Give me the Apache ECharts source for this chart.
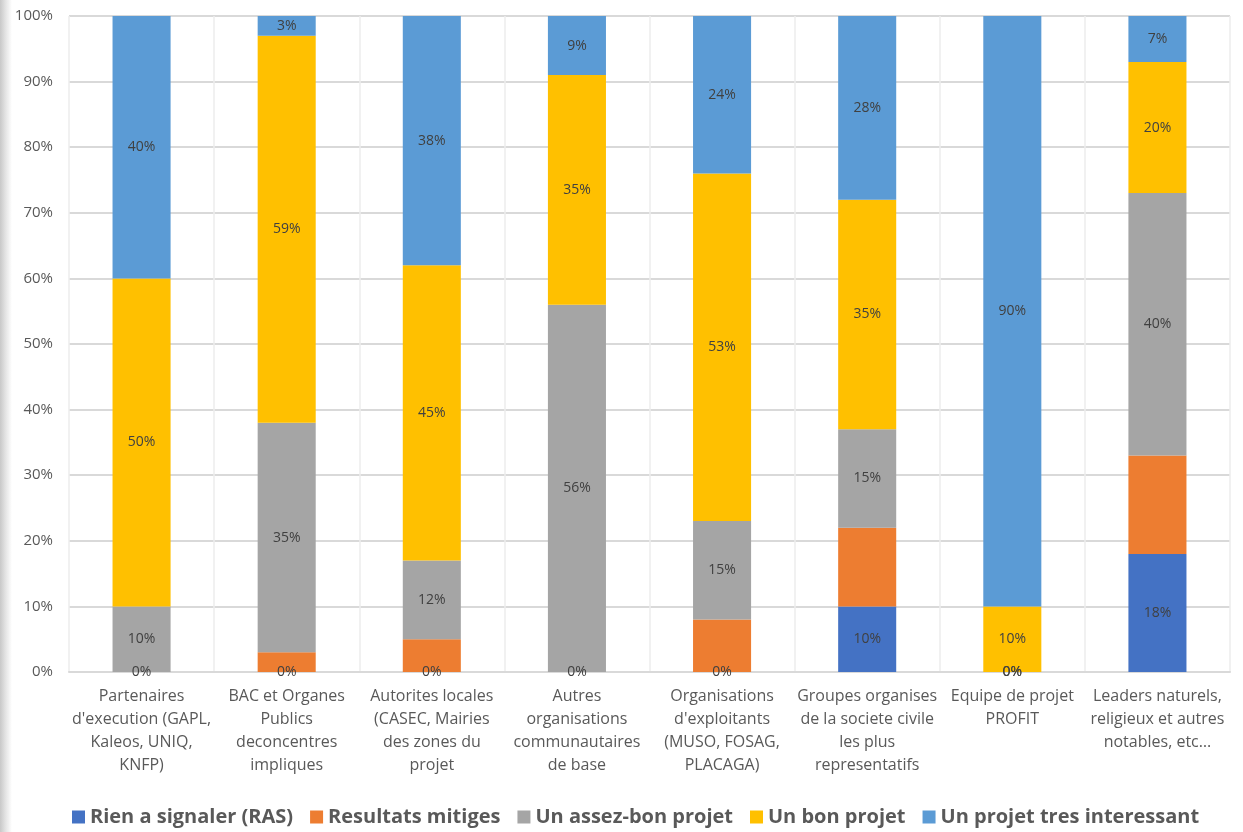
<!DOCTYPE html>
<html>
<head>
<meta charset="utf-8">
<script src="https://cdn.jsdelivr.net/npm/echarts@6/dist/echarts.min.js"></script>
<style>
  html, body { margin: 0; padding: 0; background: #fff; }
  #chart { width: 1243px; height: 832px; }
  #edge { position: absolute; left: 0; top: 0; width: 12px; height: 832px;
          background: linear-gradient(to right, #c8c8c8, #e6e6e6 50%, rgba(255,255,255,0)); }
</style>
</head>
<body>
<div id="chart"></div>
<div id="edge"></div>
<script>
// Stakeholder groups (x axis)
const categories = [
  "Partenaires\nd'execution (GAPL,\nKaleos, UNIQ,\nKNFP)",
  "BAC et Organes\nPublics\ndeconcentres\nimpliques",
  "Autorites locales\n(CASEC, Mairies\ndes zones du\nprojet",
  "Autres\norganisations\ncommunautaires\nde base",
  "Organisations\nd'exploitants\n(MUSO, FOSAG,\nPLACAGA)",
  "Groupes organises\nde la societe civile\nles plus\nrepresentatifs",
  "Equipe de projet\nPROFIT",
  "Leaders naturels,\nreligieux et autres\nnotables, etc\u2026"
];

// Share of answers per group, in percent
const ras          = [0, 0, 0, 0, 0, 10, 0, 18];
const mitiges      = [0, 3, 5, 0, 8, 12, 0, 15];
const assezBon     = [10, 35, 12, 56, 15, 15, 0, 40];
const bon          = [50, 59, 45, 35, 53, 35, 10, 20];
const interessant  = [40, 3, 38, 9, 24, 28, 90, 7];

const seriesNames = [
  "Rien a signaler (RAS)",
  "Resultats mitiges",
  "Un assez-bon projet",
  "Un bon projet",
  "Un projet tres interessant"
];
const seriesColors = ["#4472C4", "#ED7D31", "#A5A5A5", "#FFC000", "#5B9BD5"];
const seriesData = [ras, mitiges, assezBon, bon, interessant];
const showLabels = [true, false, true, true, true];

const yTicks = { min: 0, max: 100, interval: 10 };

const FONT = "'Open Sans', 'Noto Sans', sans-serif";

const chart = echarts.init(document.getElementById('chart'), null, { renderer: 'canvas' });

chart.setOption({
  animation: false,
  textStyle: { fontFamily: FONT },
  grid: { left: 69, right: 13, top: 16, bottom: 160, containLabel: false },
  legend: {
    left: 67,
    top: 802,
    itemWidth: 13,
    itemHeight: 13,
    itemGap: 17,
    icon: 'rect',
    textStyle: { fontSize: 20, fontWeight: 'bold', color: '#595959', fontFamily: FONT },
    data: seriesNames
  },
  xAxis: {
    type: 'category',
    data: categories,
    axisLine: { show: true, lineStyle: { color: '#d9d9d9', width: 2 } },
    axisTick: { show: false },
    splitLine: { show: true, lineStyle: { color: '#ececec', width: 1.5 } },
    axisLabel: {
      interval: 0,
      color: '#595959',
      fontSize: 16,
      lineHeight: 23,
      margin: 13,
      fontFamily: FONT
    }
  },
  yAxis: {
    type: 'value',
    min: yTicks.min,
    max: yTicks.max,
    interval: yTicks.interval,
    axisLine: { show: false },
    axisTick: { show: false },
    splitLine: { lineStyle: { color: '#d9d9d9', width: 2 } },
    axisLabel: {
      formatter: '{value}%',
      color: '#595959',
      fontSize: 15,
      margin: 16,
      fontFamily: FONT
    }
  },
  series: seriesNames.map((name, i) => ({
    name: name,
    type: 'bar',
    stack: 'total',
    barWidth: '40%',
    data: seriesData[i],
    itemStyle: { color: seriesColors[i] },
    label: {
      show: showLabels[i],
      position: 'inside',
      formatter: '{c}%',
      color: '#404040',
      fontSize: 14,
      fontFamily: FONT
    }
  }))
});
</script>
</body>
</html>
